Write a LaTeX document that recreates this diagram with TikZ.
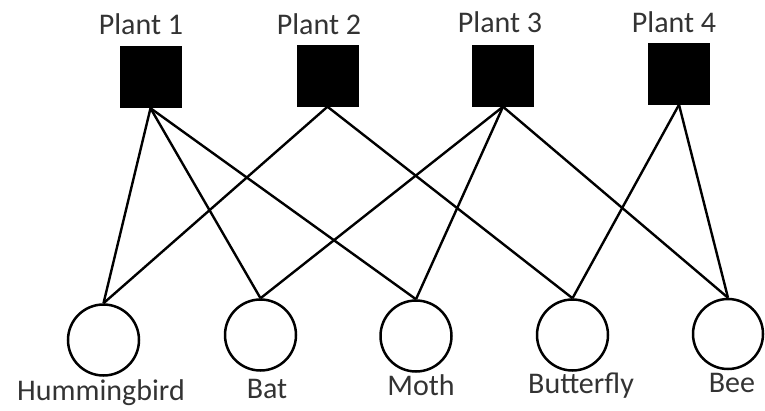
\documentclass[tikz,border=0pt]{standalone}
\usepackage{fontspec}
\setmainfont{Carlito}
\begin{document}
\begin{tikzpicture}[x=1pt,y=-1pt,
  plant/.style={rectangle,fill=black,minimum size=62pt,inner sep=0pt},
  animal/.style={circle,draw=black,line width=2.5pt,minimum size=71pt,inner sep=0pt},
  lbl/.style={anchor=base,inner sep=0pt,text=black!80,font=\fontsize{30}{36}\selectfont},
  edge/.style={line width=2.4pt,black}]
\useasboundingbox (0,0) rectangle (765,410);
% plants
\node[plant] (p1) at (150.5,77) {};
\node[plant] (p2) at (327.5,75.5) {};
\node[plant] (p3) at (503,75.5) {};
\node[plant] (p4) at (679,73.5) {};
% animals
\node[animal] (h) at (103.5,340) {};
\node[animal] (bat) at (260.5,335) {};
\node[animal] (moth) at (416,336) {};
\node[animal] (bf) at (572.5,335) {};
\node[animal,minimum size=70pt] (bee) at (728,334) {};
% labels
\node[lbl] (l1) at (141,34) {Plant 1};
\node[lbl] (l2) at (319,34) {Plant 2};
\node[lbl] (l3) at (500,32) {Plant 3};
\node[lbl] (l4) at (674,32) {Plant 4};
\node[lbl] (lh) at (101,400) {Hummingbird};
\node[lbl] (lbat) at (267,398) {Bat};
\node[lbl] (lmoth) at (421,395) {Moth};
\node[lbl] (lbf) at (581,393) {Butterfly};
\node[lbl] (lbee) at (732,392) {Bee};
% edges
\draw[edge] (p1.south) -- (h.north);
\draw[edge] (p1.south) -- (bat.north);
\draw[edge] (p1.south) -- (moth.north);
\draw[edge] (p2.south) -- (h.north);
\draw[edge] (p2.south) -- (bf.north);
\draw[edge] (p3.south) -- (bat.north);
\draw[edge] (p3.south) -- (moth.north);
\draw[edge] (p3.south) -- (bee.north);
\draw[edge] (p4.south) -- (bf.north);
\draw[edge] (p4.south) -- (bee.north);
\end{tikzpicture}
\end{document}
